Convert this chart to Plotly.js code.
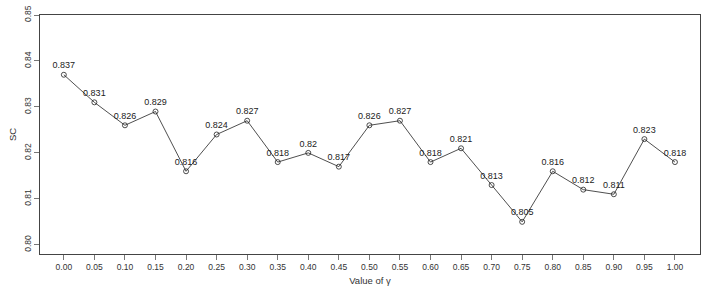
<!DOCTYPE html>
<html>
<head>
<meta charset="utf-8">
<script src="https://cdn.plot.ly/plotly-3.0.1.min.js"></script>
<style>html,body{margin:0;padding:0;background:#fff;}#chart{width:720px;height:290px;}</style>
</head>
<body>
<div id="chart"></div>
<script>
const gammaValues = [0.00,0.05,0.10,0.15,0.20,0.25,0.30,0.35,0.40,0.45,0.50,0.55,0.60,0.65,0.70,0.75,0.80,0.85,0.90,0.95,1.00];
const scValues = [0.837,0.831,0.826,0.829,0.816,0.824,0.827,0.818,0.82,0.817,0.826,0.827,0.818,0.821,0.813,0.805,0.816,0.812,0.811,0.823,0.818];
const pointLabels = ["0.837","0.831","0.826","0.829","0.816","0.824","0.827","0.818","0.82","0.817","0.826","0.827","0.818","0.821","0.813","0.805","0.816","0.812","0.811","0.823","0.818"];
const xTickLabels = ["0.00","0.05","0.10","0.15","0.20","0.25","0.30","0.35","0.40","0.45","0.50","0.55","0.60","0.65","0.70","0.75","0.80","0.85","0.90","0.95","1.00"];
const yTickValues = [0.80,0.81,0.82,0.83,0.84,0.85];
const yTickLabels = ["0.80","0.81","0.82","0.83","0.84","0.85"];

const font = "Liberation Sans, Arial, sans-serif";
const trace = {
  x: gammaValues,
  y: scValues,
  text: pointLabels,
  mode: "lines+markers+text",
  textposition: "top center",
  textfont: {family: font, size: 9, color: "#222"},
  line: {color: "#222", width: 0.8},
  marker: {symbol: "circle-open", size: 5, color: "#222", line: {width: 0.8, color: "#222"}},
  cliponaxis: false,
  hoverinfo: "none"
};
const layout = {
  width: 720, height: 290,
  margin: {l: 40, r: 20, t: 15, b: 36},
  paper_bgcolor: "#fff", plot_bgcolor: "#fff",
  showlegend: false,
  font: {family: font, size: 9, color: "#333"},
  xaxis: {
    range: [-0.039, 1.041],
    tickmode: "array", tickvals: gammaValues, ticktext: xTickLabels,
    ticks: "outside", ticklen: 5, tickwidth: 0.8, tickcolor: "#555",
    showline: true, mirror: true, linecolor: "#444", linewidth: 1,
    showgrid: false, zeroline: false,
    tickfont: {family: font, size: 8.5, color: "#333"},
    title: {text: "Value of γ", font: {family: font, size: 9.5, color: "#333"}, standoff: 6}
  },
  yaxis: {
    range: [0.798, 0.850],
    tickmode: "array", tickvals: yTickValues, ticktext: yTickLabels,
    tickangle: -90,
    ticks: "outside", ticklen: 5, tickwidth: 0.8, tickcolor: "#555",
    showline: true, mirror: true, linecolor: "#444", linewidth: 1,
    showgrid: false, zeroline: false,
    tickfont: {family: font, size: 8.5, color: "#333"},
    title: {text: "SC", font: {family: font, size: 9.5, color: "#333"}, standoff: 4}
  }
};
Plotly.newPlot("chart", [trace], layout, {displayModeBar: false, staticPlot: true});
</script>
</body>
</html>
